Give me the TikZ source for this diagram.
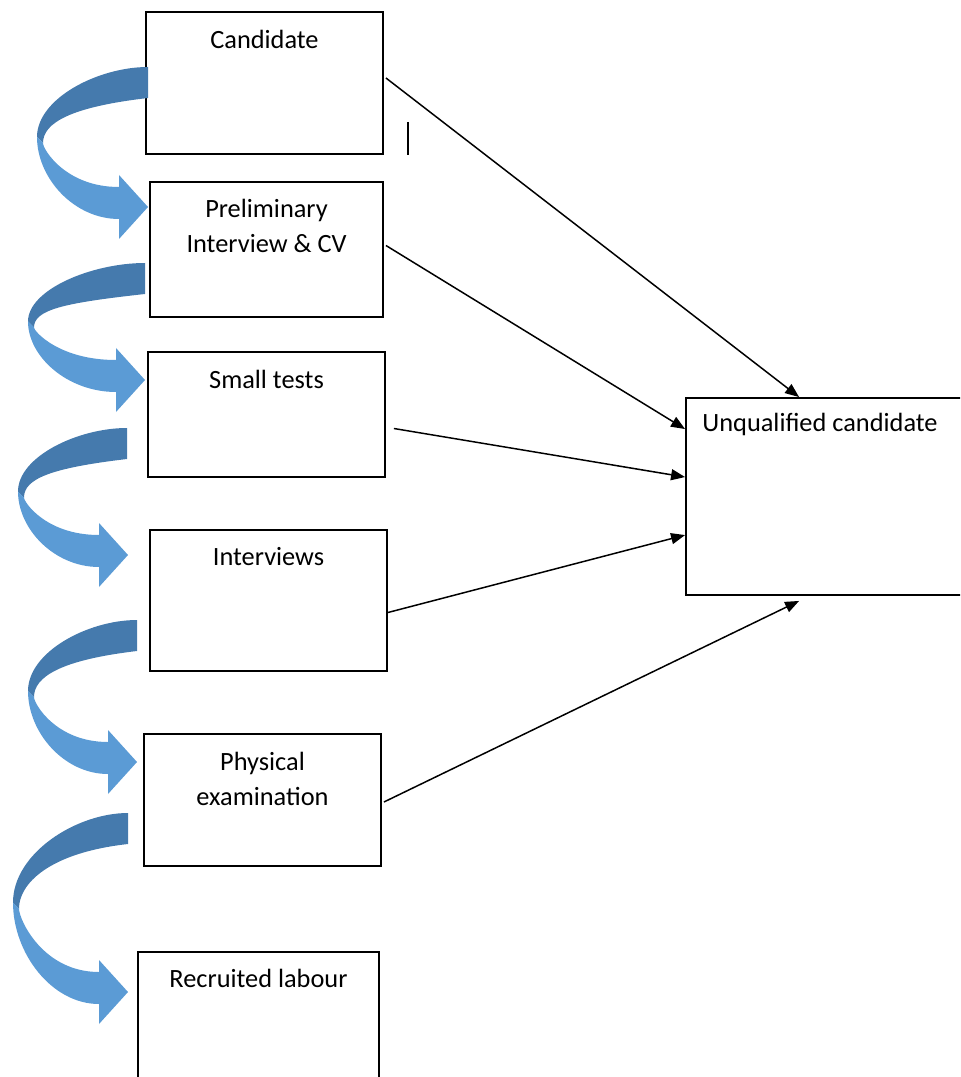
\documentclass[tikz,border=0pt]{standalone}
\usepackage{fontspec}
\setmainfont{Carlito}
\usetikzlibrary{arrows.meta,calc}

\definecolor{benddark}{RGB}{69,122,173}
\definecolor{bendlight}{RGB}{91,155,213}

% curved ribbon arrow: right end x, top y, left x, tip x, tip y
\newcommand{\bendarrow}[5]{%
  \pgfmathsetmacro\bym{(#2+#5)/2}
  \pgfmathsetmacro\bxh{#4-29}
  \fill[benddark] (#1,#2) .. controls ({#3+0.55*(#1-#3)},#2) and (#3,{#2+0.45*(\bym-#2)}) .. (#3,\bym)
    -- ({#3+6},{\bym+6}) .. controls ({#3+6},{\bym-0.2*(\bym-#2)}) and ({#3+0.3*(#1-#3)},{#2+40}) .. (#1,{#2+31}) -- cycle;
  \fill[bendlight] (#3,\bym) .. controls (#3,{\bym+0.5*(#5+12-\bym)}) and ({#3+0.45*(\bxh-#3)},{#5+12}) .. (\bxh,{#5+12})
    -- (\bxh,{#5+32}) -- (#4,#5) -- (\bxh,{#5-32}) -- (\bxh,{#5-20})
    .. controls ({#3+0.35*(\bxh-#3)},{#5-20}) and ({#3+6},{\bym+0.25*(#5-20-\bym)}) .. ({#3+6},{\bym+6}) -- cycle;
}

\begin{document}
\begin{tikzpicture}[x=0.02cm,y=-0.02cm]
\tikzset{
  stagebox/.style={rectangle,draw,line width=1.1pt,fill=white,inner sep=0pt},
  stagetext/.style={font=\fontsize{15}{20}\selectfont,align=center,inner sep=0pt,anchor=center},
  reject/.style={-{Triangle[length=2.8mm,width=2.2mm]},line width=0.85pt}
}
\useasboundingbox (0,0) rectangle (960,1077);
\clip (0,0) rectangle (960,1077);
\node[stagebox,minimum width=4.74cm,minimum height=2.84cm,
  label={[stagetext,yshift=-0.56cm]north:Candidate}] (n_cand) at (264.5,83) {};
\node[stagebox,minimum width=4.66cm,minimum height=2.70cm,
  label={[stagetext,yshift=-0.9cm]north:Preliminary\\Interview \& CV}] (n_prelim) at (266.5,249.5) {};
\node[stagebox,minimum width=4.74cm,minimum height=2.50cm,
  label={[stagetext,yshift=-0.56cm]north:Small tests}] (n_small) at (266.5,414.5) {};
\node[stagebox,minimum width=4.74cm,minimum height=2.82cm,
  label={[stagetext,yshift=-0.54cm]north:Interviews}] (n_interv) at (268.5,600.5) {};
\node[stagebox,minimum width=4.74cm,minimum height=2.64cm,
  label={[stagetext,yshift=-0.91cm]north:Physical\\examination}] (n_phys) at (262.5,800) {};
\node[stagebox,minimum width=4.82cm,minimum height=3.36cm,
  label={[stagetext,yshift=-0.54cm]north:Recruited labour}] (n_recr) at (258.5,1036) {};
\node[stagebox,minimum width=5.88cm,minimum height=3.94cm,
  label={[stagetext,anchor=west,xshift=0.34cm,yshift=-0.54cm]north west:Unqualified candidate}] (n_unq) at (833,496.5) {};
% rejections
\draw[reject] ($(n_cand.east)+(2,-5)$) -- ($(n_unq.north west)+(114,0)$);
\draw[reject] ($(n_prelim.east)+(2,-4)$) -- ($(n_unq.north west)+(0,32)$);
\draw[reject] ($(n_small.east)+(8,14)$) -- ($(n_unq.north west)+(0,80)$);
\draw[reject] ($(n_interv.east)+(0,12)$) -- ($(n_unq.north west)+(0,138)$);
\draw[reject] ($(n_phys.east)+(2,2)$) -- ($(n_unq.south west)+(114,5)$);
\draw[line width=0.9pt] (408,122) -- (408,155);
% flow between stages
\bendarrow{148}{67}{37}{148}{207}
\bendarrow{145}{263}{28}{145}{380}
\bendarrow{127}{428}{18}{128}{555}
\bendarrow{137}{620}{28}{137}{762}
\bendarrow{128}{813}{13}{128}{992}
\end{tikzpicture}
\end{document}
